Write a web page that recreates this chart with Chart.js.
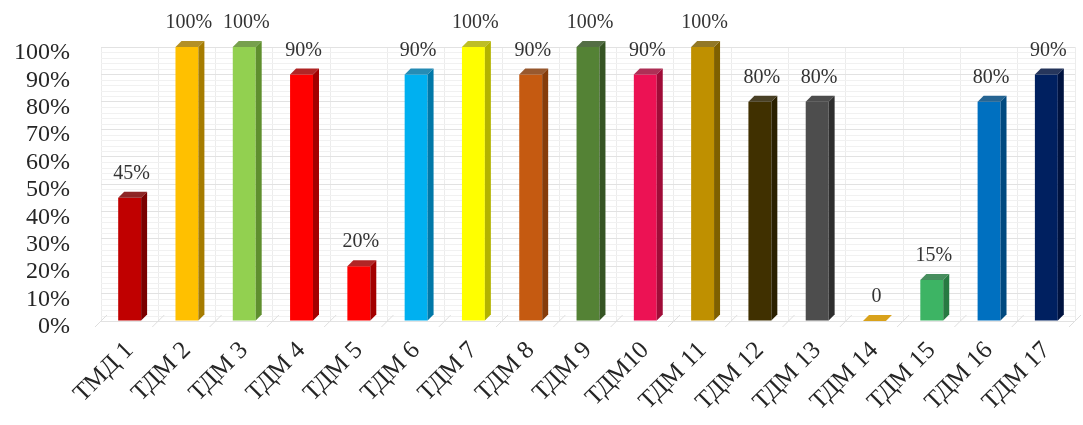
<!DOCTYPE html>
<html lang="ru">
<head>
  <meta charset="UTF-8">
  <title>ТДМ</title>
  <style>
    body { margin: 0; background: #ffffff; }
    #wrap { width: 1083px; height: 425px; }
  </style>
  <script src="https://cdn.jsdelivr.net/npm/chart.js"></script>
</head>
<body>
  <div id="wrap"><canvas id="chart"></canvas></div>

  <script>
    // Data
    const categories = ['ТМД 1', 'ТДМ 2', 'ТДМ 3', 'ТДМ 4', 'ТДМ 5', 'ТДМ 6', 'ТДМ 7', 'ТДМ 8', 'ТДМ 9',
      'ТДМ10', 'ТДМ 11', 'ТДМ 12', 'ТДМ 13', 'ТДМ 14', 'ТДМ 15', 'ТДМ 16', 'ТДМ 17'];
    const values = [45, 100, 100, 90, 20, 90, 100, 90, 100, 90, 100, 80, 80, 0, 15, 80, 90];
    const yTicks = [0, 10, 20, 30, 40, 50, 60, 70, 80, 90, 100];

    const frontColors = ['#C00000', '#FFC000', '#92D050', '#FF0000', '#FF0000', '#00B0F0', '#FFFF00', '#C55A11', '#548235',
      '#EC1254', '#BF9000', '#403000', '#4D4D4D', '#D9A21B', '#3DB464', '#0070C0', '#002060'];
    const sideColors = ['#7A0000', '#A67C00', '#5F8F2E', '#A30000', '#A30000', '#0078A8', '#B3B300', '#863C0A', '#365524',
      '#A00C38', '#7F6000', '#2A2000', '#2E2E2E', '#A07510', '#277A42', '#004A80', '#001340'];

    const DEPTH = 6;
    const serif = "'Liberation Serif', 'Times New Roman', serif";

    // back wall minor lines + floor strokes
    const wallPlugin = {
      id: 'wall',
      beforeDatasetsDraw(chart) {
        const { ctx, chartArea, scales } = chart;
        ctx.save();
        ctx.strokeStyle = '#f1f1f1';
        ctx.lineWidth = 1;
        for (let v = 0; v <= 100; v += 2) {
          if (v % 10 === 0) continue;
          const y = Math.round(scales.y.getPixelForValue(v)) + 0.5;
          ctx.beginPath();
          ctx.moveTo(chartArea.left, y);
          ctx.lineTo(chartArea.right, y);
          ctx.stroke();
        }
        ctx.strokeStyle = '#dedede';
        const step = (chartArea.right - chartArea.left) / categories.length;
        for (let i = 0; i <= categories.length; i++) {
          const x = chartArea.left + i * step;
          ctx.beginPath();
          ctx.moveTo(x - 6, chartArea.bottom + 6);
          ctx.lineTo(x + DEPTH, chartArea.bottom - DEPTH);
          ctx.stroke();
        }
        ctx.restore();
      }
    };

    // side + top faces and value labels
    const bar3dPlugin = {
      id: 'bar3d',
      afterDatasetsDraw(chart) {
        const { ctx } = chart;
        const meta = chart.getDatasetMeta(0);
        ctx.save();
        meta.data.forEach((bar, i) => {
          const p = bar.getProps(['x', 'y', 'base', 'width'], true);
          const l = p.x - p.width / 2, r = p.x + p.width / 2;
          const top = p.y, bottom = p.base;
          // side
          ctx.fillStyle = sideColors[i];
          ctx.beginPath();
          ctx.moveTo(r, top);
          ctx.lineTo(r + DEPTH, top - DEPTH);
          ctx.lineTo(r + DEPTH, bottom - DEPTH);
          ctx.lineTo(r, bottom);
          ctx.closePath();
          ctx.fill();
          // top
          ctx.fillStyle = values[i] === 0 ? frontColors[i] : sideColors[i];
          ctx.globalAlpha = values[i] === 0 ? 1 : 0.85;
          ctx.beginPath();
          ctx.moveTo(l, top);
          ctx.lineTo(l + DEPTH, top - DEPTH);
          ctx.lineTo(r + DEPTH, top - DEPTH);
          ctx.lineTo(r, top);
          ctx.closePath();
          ctx.fill();
          ctx.globalAlpha = 1;
          // label
          ctx.fillStyle = '#333333';
          ctx.font = '20px ' + serif;
          ctx.textAlign = 'center';
          ctx.textBaseline = 'middle';
          const txt = values[i] === 0 ? '0' : values[i] + '%';
          ctx.fillText(txt, p.x + 2, top - 24);
        });
        ctx.restore();
      }
    };

    new Chart(document.getElementById('chart'), {
      type: 'bar',
      data: {
        labels: categories,
        datasets: [{
          data: values,
          backgroundColor: frontColors,
          borderWidth: 0,
          barPercentage: 0.8,
          categoryPercentage: 0.5
        }]
      },
      options: {
        responsive: true,
        maintainAspectRatio: false,
        animation: false,
        layout: { padding: { top: 47, right: 8, left: 0, bottom: 0 } },
        plugins: {
          legend: { display: false },
          tooltip: { enabled: false }
        },
        scales: {
          x: {
            grid: { display: true, offset: true, color: '#ececec', drawTicks: false },
            border: { display: false },
            ticks: {
              color: '#262626',
              font: { family: serif, size: 25 },
              minRotation: 45,
              maxRotation: 45,
              autoSkip: false,
              padding: 15
            },
            afterFit(scale) { scale.height = 104; }
          },
          y: {
            min: 0,
            max: 100,
            afterBuildTicks(scale) { scale.ticks = yTicks.map(v => ({ value: v })); },
            grid: { color: '#e2e2e2', drawTicks: false },
            border: { display: false },
            ticks: {
              color: '#262626',
              font: { family: serif, size: 24 },
              autoSkip: false,
              padding: 31,
              labelOffset: 6,
              callback: v => v + '%'
            },
            afterFit(scale) { scale.width = 101; }
          }
        }
      },
      plugins: [wallPlugin, bar3dPlugin]
    });
  </script>
</body>
</html>
